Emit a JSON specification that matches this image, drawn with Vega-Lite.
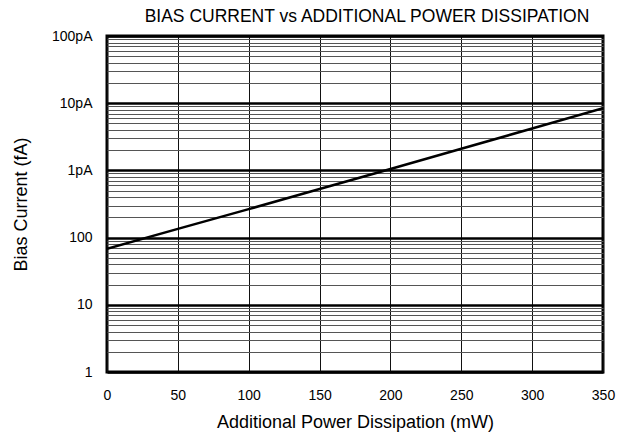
{
  "$schema": "https://vega.github.io/schema/vega-lite/v6.json",
  "width": 496,
  "height": 336,
  "autosize": "none",
  "padding": {"left": 107, "top": 36, "right": 18, "bottom": 65},
  "background": "white",
  "config": {
    "font": "Liberation Sans",
    "view": {"stroke": "black", "strokeWidth": 3}
  },
  "title": {
    "text": "BIAS CURRENT vs ADDITIONAL POWER DISSIPATION",
    "fontSize": 17.5,
    "fontWeight": "normal",
    "color": "black",
    "anchor": "middle",
    "dx": 12,
    "offset": 4
  },
  "data": {
    "values": [
      {"power": 0, "bias": 68},
      {"power": 50, "bias": 135},
      {"power": 100, "bias": 265},
      {"power": 150, "bias": 530},
      {"power": 200, "bias": 1050},
      {"power": 250, "bias": 2100},
      {"power": 300, "bias": 4200},
      {"power": 350, "bias": 8400}
    ]
  },
  "mark": {"type": "line", "color": "black", "strokeWidth": 2.5, "clip": true},
  "encoding": {
    "x": {
      "field": "power",
      "type": "quantitative",
      "scale": {"domain": [0, 350], "nice": false, "zero": false},
      "axis": {
        "title": "Additional Power Dissipation (mW)",
        "values": [0, 50, 100, 150, 200, 250, 300, 350],
        "domain": false,
        "ticks": false,
        "grid": true,
        "gridColor": "#111",
        "gridWidth": 1,
        "gridOpacity": 1,
        "labelFontSize": 14,
        "labelColor": "black",
        "labelPadding": 16,
        "labelFlush": false,
        "titleFontSize": 18,
        "titleFontWeight": "normal",
        "titleColor": "black",
        "titlePadding": 11
      }
    },
    "y": {
      "field": "bias",
      "type": "quantitative",
      "scale": {"type": "log", "domain": [1, 100000], "nice": false},
      "axis": {
        "title": "Bias Current (fA)",
        "values": [1,2,3,4,5,6,7,8,9,10,20,30,40,50,60,70,80,90,100,200,300,400,500,600,700,800,900,1000,2000,3000,4000,5000,6000,7000,8000,9000,10000,20000,30000,40000,50000,60000,70000,80000,90000,100000],
        "labelExpr": "datum.value == 1 ? '1' : datum.value == 10 ? '10' : datum.value == 100 ? '100' : datum.value == 1000 ? '1pA' : datum.value == 10000 ? '10pA' : datum.value == 100000 ? '100pA' : ''",
        "labelOverlap": false,
        "labelFlush": false,
        "domain": false,
        "ticks": false,
        "grid": true,
        "gridOpacity": 1,
        "gridColor": {"condition": {"test": "indexof([1,10,100,1000,10000,100000], datum.value) >= 0", "value": "black"}, "value": "#555"},
        "gridWidth": {"condition": {"test": "indexof([1,10,100,1000,10000,100000], datum.value) >= 0", "value": 2.5}, "value": 1},
        "labelFontSize": 14,
        "labelColor": "black",
        "labelPadding": 15,
        "titleFontSize": 18,
        "titleFontWeight": "normal",
        "titleColor": "black",
        "titlePadding": 21
      }
    }
  }
}
